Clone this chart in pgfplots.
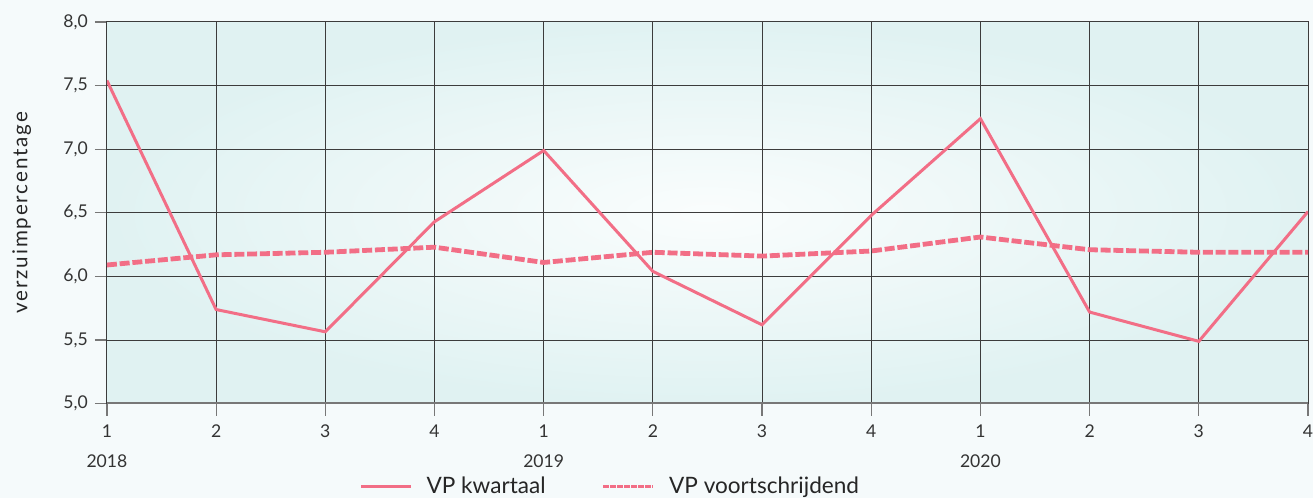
\documentclass[border=0pt]{standalone}
\usepackage{pgfplots}
\pgfplotsset{compat=1.18}
\usepackage{fontspec}
\setmainfont{Lato}
\newfontfamily\spaced[LetterSpace=9]{Lato}
\definecolor{pagebg}{RGB}{245,250,251}
\definecolor{plotedge}{RGB}{224,242,242}
\definecolor{plotmid}{RGB}{250,253,253}
\definecolor{vp}{RGB}{242,110,134}
\definecolor{gridc}{RGB}{60,60,60}

\begin{document}
\begin{tikzpicture}
\fill[pagebg] (-53.5pt,-47pt) rectangle (603.5pt,202pt);
\begin{axis}[
  scale only axis,
  width=601pt, height=191pt,
  xmin=0, xmax=11, ymin=5, ymax=8,
  axis background/.style={inner color=plotmid, outer color=plotedge},
  xtick={0,...,11},
  xticklabels={{1\\[4.5pt]2018},2,3,4,{1\\[4.5pt]2019},2,3,4,{1\\[4.5pt]2020},2,3,4},
  xticklabel style={align=center, anchor=north, yshift=-1pt},
  ytick={5,5.5,...,8},
  yticklabel style={/pgf/number format/.cd, fixed, fixed zerofill, precision=1, use comma, assume math mode=true},
  ticklabel style={font=\fontsize{8.8}{10.5}\selectfont, text=black!80},
  xtick pos=bottom, ytick pos=left,
  grid=major,
  grid style={gridc, line width=0.5pt},
  axis line style={gridc, line width=0.5pt},
  tick align=outside,
  major tick length=6pt,
  tick style={gridc!70, line width=0.6pt},
  ylabel={\spaced verzuimpercentage},
  ylabel style={at={(axis description cs:-0.071,0.5)}, anchor=center, font=\fontsize{10.3}{12}\selectfont, text=black!85},
  legend columns=2,
  legend style={at={(axis description cs:0.42,-0.217)}, anchor=center, draw=none, fill=none,
    font=\fontsize{11.3}{13}\selectfont, text=black!85,
    /tikz/every odd column/.append style={column sep=5pt},
    /tikz/every even column/.append style={column sep=26pt}},
  legend image code/.code={\draw[#1] (0pt,0pt) -- (25pt,0pt);},
]
\addplot[vp, line width=1.5pt] coordinates {
  (0,7.54) (1,5.74) (2,5.565) (3,6.43) (4,6.99) (5,6.04)
  (6,5.62) (7,6.48) (8,7.24) (9,5.72) (10,5.49) (11,6.51)
};
\addlegendentry{VP kwartaal}
\addplot[vp, line width=2.4pt, dash pattern=on 5pt off 1.4pt,
  legend image post style={line width=1.8pt, dash pattern=on 2.6pt off 0.9pt}] coordinates {
  (0,6.09) (1,6.17) (2,6.19) (3,6.23) (4,6.11) (5,6.19)
  (6,6.16) (7,6.20) (8,6.31) (9,6.21) (10,6.19) (11,6.19)
};
\addlegendentry{VP voortschrijdend}
\draw[gridc!70, line width=1.2pt] (axis cs:0,5) -- (axis cs:11,5);
\end{axis}
\pgfresetboundingbox
\path[use as bounding box] (-53.5pt,-47pt) rectangle (603.5pt,202pt);
\end{tikzpicture}
\end{document}
